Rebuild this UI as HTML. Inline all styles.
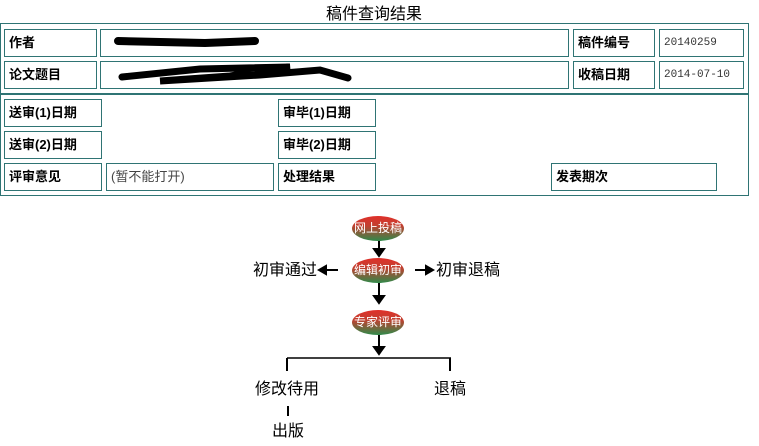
<!DOCTYPE html>
<html><head><meta charset="utf-8"><style>
body{margin:0;width:759px;height:446px;background:#fff;position:relative;overflow:hidden;font-family:"Liberation Sans","Noto Sans CJK SC",sans-serif}
.a{position:absolute}
.b{position:absolute;border:1px solid #2f7474;box-sizing:border-box;font-size:13px;font-weight:bold;line-height:26px;padding-left:4px;color:#000}
.n{font-weight:normal;font-family:"Liberation Mono",monospace;font-size:11px;color:#333}
.t{position:absolute;font-size:16px;color:#000;line-height:20px;white-space:nowrap}
.e{position:absolute;width:52px;height:25px;border-radius:50%;background:linear-gradient(#e0302a 0%,#c04030 40%,#2f8a4a 100%);color:#fff;font-size:12px;line-height:25px;text-align:center;white-space:nowrap;overflow:hidden}
</style></head><body>
<div class="t" style="left:326px;top:5px">稿件查询结果</div>
<div class="a" style="left:0;top:23px;width:749px;height:72px;border:1px solid #2f7474;border-bottom:2px solid #2f7474;box-sizing:border-box"></div>
<div class="b" style="left:4px;top:29px;width:93px;height:28px">作者</div>
<div class="b" style="left:100px;top:29px;width:469px;height:28px"></div>
<div class="b" style="left:573px;top:29px;width:82px;height:28px">稿件编号</div>
<div class="b n" style="left:659px;top:29px;width:85px;height:28px">20140259</div>
<div class="b" style="left:4px;top:61px;width:93px;height:28px">论文题目</div>
<div class="b" style="left:100px;top:61px;width:469px;height:28px"></div>
<div class="b" style="left:573px;top:61px;width:82px;height:28px">收稿日期</div>
<div class="b n" style="left:659px;top:61px;width:85px;height:28px">2014-07-10</div>
<svg class="a" style="left:0;top:0" width="759" height="100"><path d="M118 41 L205 43 L255 41" stroke="#000" stroke-width="8" stroke-linecap="round" fill="none"/><path d="M122 77 L200 69 L290 67 L230 76 L160 81 L260 75 L320 70 L348 78" stroke="#000" stroke-width="7" stroke-linecap="round" fill="none"/></svg>
<div class="a" style="left:0;top:95px;width:749px;height:101px;border:1px solid #2f7474;border-top:none;box-sizing:border-box"></div>
<div class="b" style="left:4px;top:99px;width:98px;height:28px">送审(1)日期</div>
<div class="b" style="left:278px;top:99px;width:98px;height:28px">审毕(1)日期</div>
<div class="b" style="left:4px;top:131px;width:98px;height:28px">送审(2)日期</div>
<div class="b" style="left:278px;top:131px;width:98px;height:28px">审毕(2)日期</div>
<div class="b" style="left:4px;top:163px;width:98px;height:28px">评审意见</div>
<div class="b" style="left:106px;top:163px;width:168px;height:28px;font-weight:normal;color:#444">(暂不能打开)</div>
<div class="b" style="left:278px;top:163px;width:98px;height:28px">处理结果</div>
<div class="b" style="left:551px;top:163px;width:166px;height:28px">发表期次</div>
<div class="e" style="left:352px;top:216px">网上投稿</div>
<div class="e" style="left:352px;top:258px">编辑初审</div>
<div class="e" style="left:352px;top:310px">专家评审</div>
<svg class="a" style="left:0;top:0" width="759" height="446">
<g stroke="#000" stroke-width="2" fill="#000">
<line x1="379" y1="241" x2="379" y2="250"/><path d="M374 249 L384 249 L379 256Z"/>
<line x1="379" y1="283" x2="379" y2="297"/><path d="M374 296 L384 296 L379 303Z"/>
<line x1="379" y1="335" x2="379" y2="348"/><path d="M374 347 L384 347 L379 354Z"/>
<line x1="338" y1="270" x2="326" y2="270"/><path d="M326 266 L326 274 L319 270Z"/>
<line x1="415" y1="270" x2="426" y2="270"/><path d="M426 266 L426 274 L433 270Z"/>
<line x1="287" y1="358" x2="451" y2="358" stroke-width="1.5"/>
<line x1="287" y1="358" x2="287" y2="371"/><line x1="450" y1="358" x2="450" y2="371"/>
<line x1="288" y1="406" x2="288" y2="416"/>
</g></svg>
<div class="t" style="left:253px;top:261px">初审通过</div>
<div class="t" style="left:436px;top:261px">初审退稿</div>
<div class="t" style="left:255px;top:380px">修改待用</div>
<div class="t" style="left:434px;top:380px">退稿</div>
<div class="t" style="left:272px;top:422px">出版</div>
</body></html>
